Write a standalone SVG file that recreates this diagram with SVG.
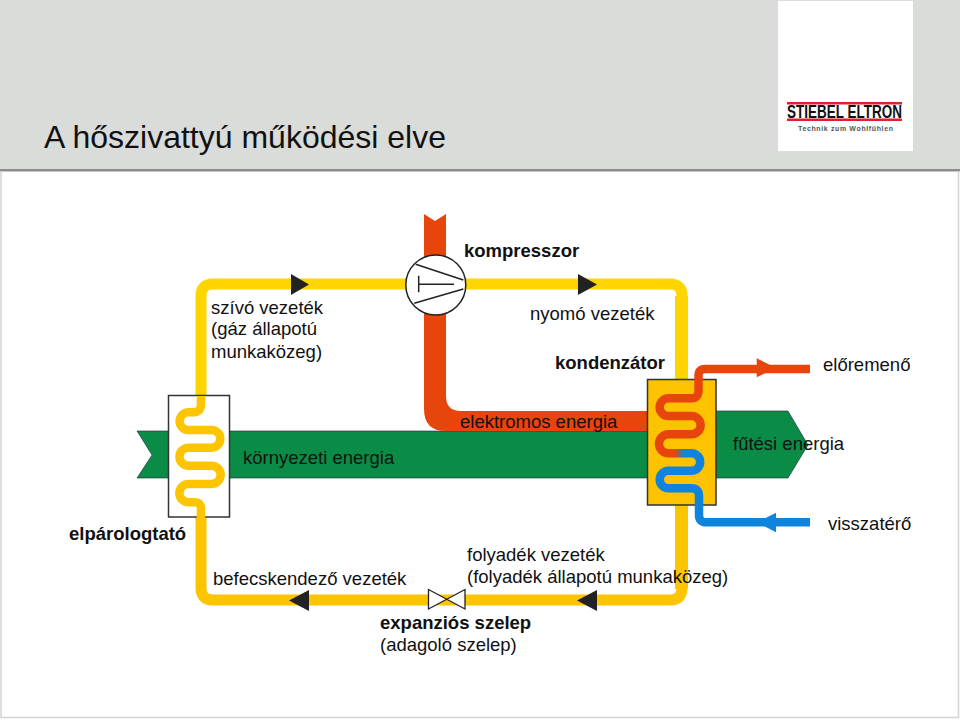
<svg xmlns="http://www.w3.org/2000/svg" width="960" height="720" viewBox="0 0 960 720">
<defs>
<linearGradient id="mix" gradientUnits="userSpaceOnUse" x1="675" y1="0" x2="683.5" y2="0"><stop offset="0" stop-color="#e8450c"/><stop offset="1" stop-color="#0f84dc"/></linearGradient>
</defs>
<style>
text{font-family:"Liberation Sans",Arial,sans-serif;font-size:18.5px;fill:#111}
.b{font-weight:bold}
.s{fill:none;stroke-width:8.5;stroke-linejoin:round}
.ah{fill:#222}
.ln{stroke:#222;stroke-width:1.5;fill:none}
</style>
<rect width="960" height="720" fill="#fff"/>
<rect x="0" y="0" width="960" height="170" fill="#dadcda"/>
<rect x="0" y="169" width="960" height="2.500" fill="#8c8c8c"/>
<path d="M1 171V717.500H958.500V171" fill="none" stroke="#d4d4d4" stroke-width="1.500"/>
<g id="title"><text x="44" y="148" style="font-size:32px">A hőszivattyú működési elve</text></g>
<g id="logo">
<rect x="778" y="1" width="135" height="150" fill="#fff"/>
<rect x="787" y="102" width="115" height="2.500" fill="#e02030"/>
<rect x="787" y="118.500" width="115" height="2.500" fill="#e02030"/>
<text x="787" y="118" class="b" textLength="115" lengthAdjust="spacingAndGlyphs" style="font-size:18px">STIEBEL ELTRON</text>
<text x="798" y="131" class="b" textLength="95" lengthAdjust="spacing" style="font-size:7px;fill:#555">Technik zum Wohlfühlen</text>
</g>
<g id="energy-band">
<path d="M137 431H648V411H788L808 445L788 478H137L152 455Z" fill="#0a8c46" stroke="#224" stroke-width="0.600"/>
</g>
<g id="electric-line">
<path d="M424 214L435 221L446 214V396Q446 411 461 411H648V431H446Q424 431 424 409Z" fill="#e8450c"/>
</g>
<g id="connectors">
<path fill="none" stroke="#ffd500" stroke-width="11" d="M201 396V296Q201 284 213 284H670Q682 284 682 296V380"/>
<path fill="none" stroke="#fdc400" stroke-width="11" d="M682 504V588Q682 600 670 600H213Q201 600 201 588V517"/>
<rect x="675" y="296" width="13" height="84" fill="#ffd500"/>
<rect x="675" y="505" width="13" height="84" fill="#fdc400"/>
<path class="ah" d="M291 274V295L309 284.500Z"/>
<path class="ah" d="M578 274V295L597 284.500Z"/>
<path class="ah" d="M309 590V611L289 600.500Z"/>
<path class="ah" d="M597 590V611L577 600.500Z"/>
</g>
<g id="evaporator">
<rect x="168.500" y="395.500" width="61" height="121.500" fill="#fff" stroke="#333" stroke-width="1.500"/>
<path class="s" style="stroke:#fdc400" d="M201 396V404Q201 412.300 193 412.300H188.500A8.850 8.850 0 0 0 188.500 430H211.500A8.850 8.850 0 0 1 211.500 447.700H188.500A9 9 0 0 0 188.500 465.700H211.500A9.150 9.150 0 0 1 211.500 484H188.500A9.150 9.150 0 0 0 188.500 502.300H195Q201 502.300 201 509V518"/>
</g>
<g id="condenser">
<rect x="647.500" y="379.500" width="68.500" height="125.500" fill="#fdc300" stroke="#333" stroke-width="1.500"/>
<path class="s" style="stroke:#e8450c" d="M810 369H705Q698.500 369 698.500 376V390Q698.500 398.300 691.500 398.300H668.500A8.850 8.850 0 0 0 668.500 416H691.500A9.150 9.150 0 0 1 691.500 434.300H668.500A9.500 9.500 0 0 0 668.500 453.300H676"/>
<rect x="675" y="449" width="8.500" height="8.500" fill="url(#mix)"/>
<path class="s" style="stroke:#0f84dc" d="M683 453.300H691.500A8.700 8.700 0 0 1 691.500 470.700H668.500A8.800 8.800 0 0 0 668.500 488.300H691.500Q699 488.300 699 496V515Q699 522.300 706 522.300H810"/>
<path d="M756.700 358.300V377.300L776 368Z" fill="#e8450c"/>
<path d="M776 512.700V532.300L756.700 522.300Z" fill="#0f84dc"/>
</g>
<g id="compressor">
<circle cx="435.800" cy="285" r="30" fill="#fff" stroke="#222" stroke-width="1.500"/>
<path class="ln" d="M415.700 264.300L463.300 280M414.300 303.300L463.300 289M418.700 275.700V292.300M418.700 284.300H454"/>
</g>
<g id="valve">
<path d="M428.500 589.500V609L465 589.500V609Z" fill="#fff" stroke="#222" stroke-width="1.300" stroke-linejoin="miter"/>
</g>
<g id="labels">
<text x="464" y="257" class="b">kompresszor</text>
<text x="211" y="314">szívó vezeték</text>
<text x="211" y="335">(gáz állapotú</text>
<text x="211" y="358">munkaközeg)</text>
<text x="530" y="320">nyomó vezeték</text>
<text x="555" y="369" class="b">kondenzátor</text>
<text x="823" y="371">előremenő</text>
<text x="460" y="428">elektromos energia</text>
<text x="243" y="464">környezeti energia</text>
<text x="733" y="450">fűtési energia</text>
<text x="69" y="540" class="b">elpárologtató</text>
<text x="828" y="530">visszatérő</text>
<text x="467" y="561">folyadék vezeték</text>
<text x="467" y="583">(folyadék állapotú munkaközeg)</text>
<text x="213" y="585">befecskendező vezeték</text>
<text x="380" y="629" class="b">expanziós szelep</text>
<text x="380" y="651">(adagoló szelep)</text>
</g>
</svg>
